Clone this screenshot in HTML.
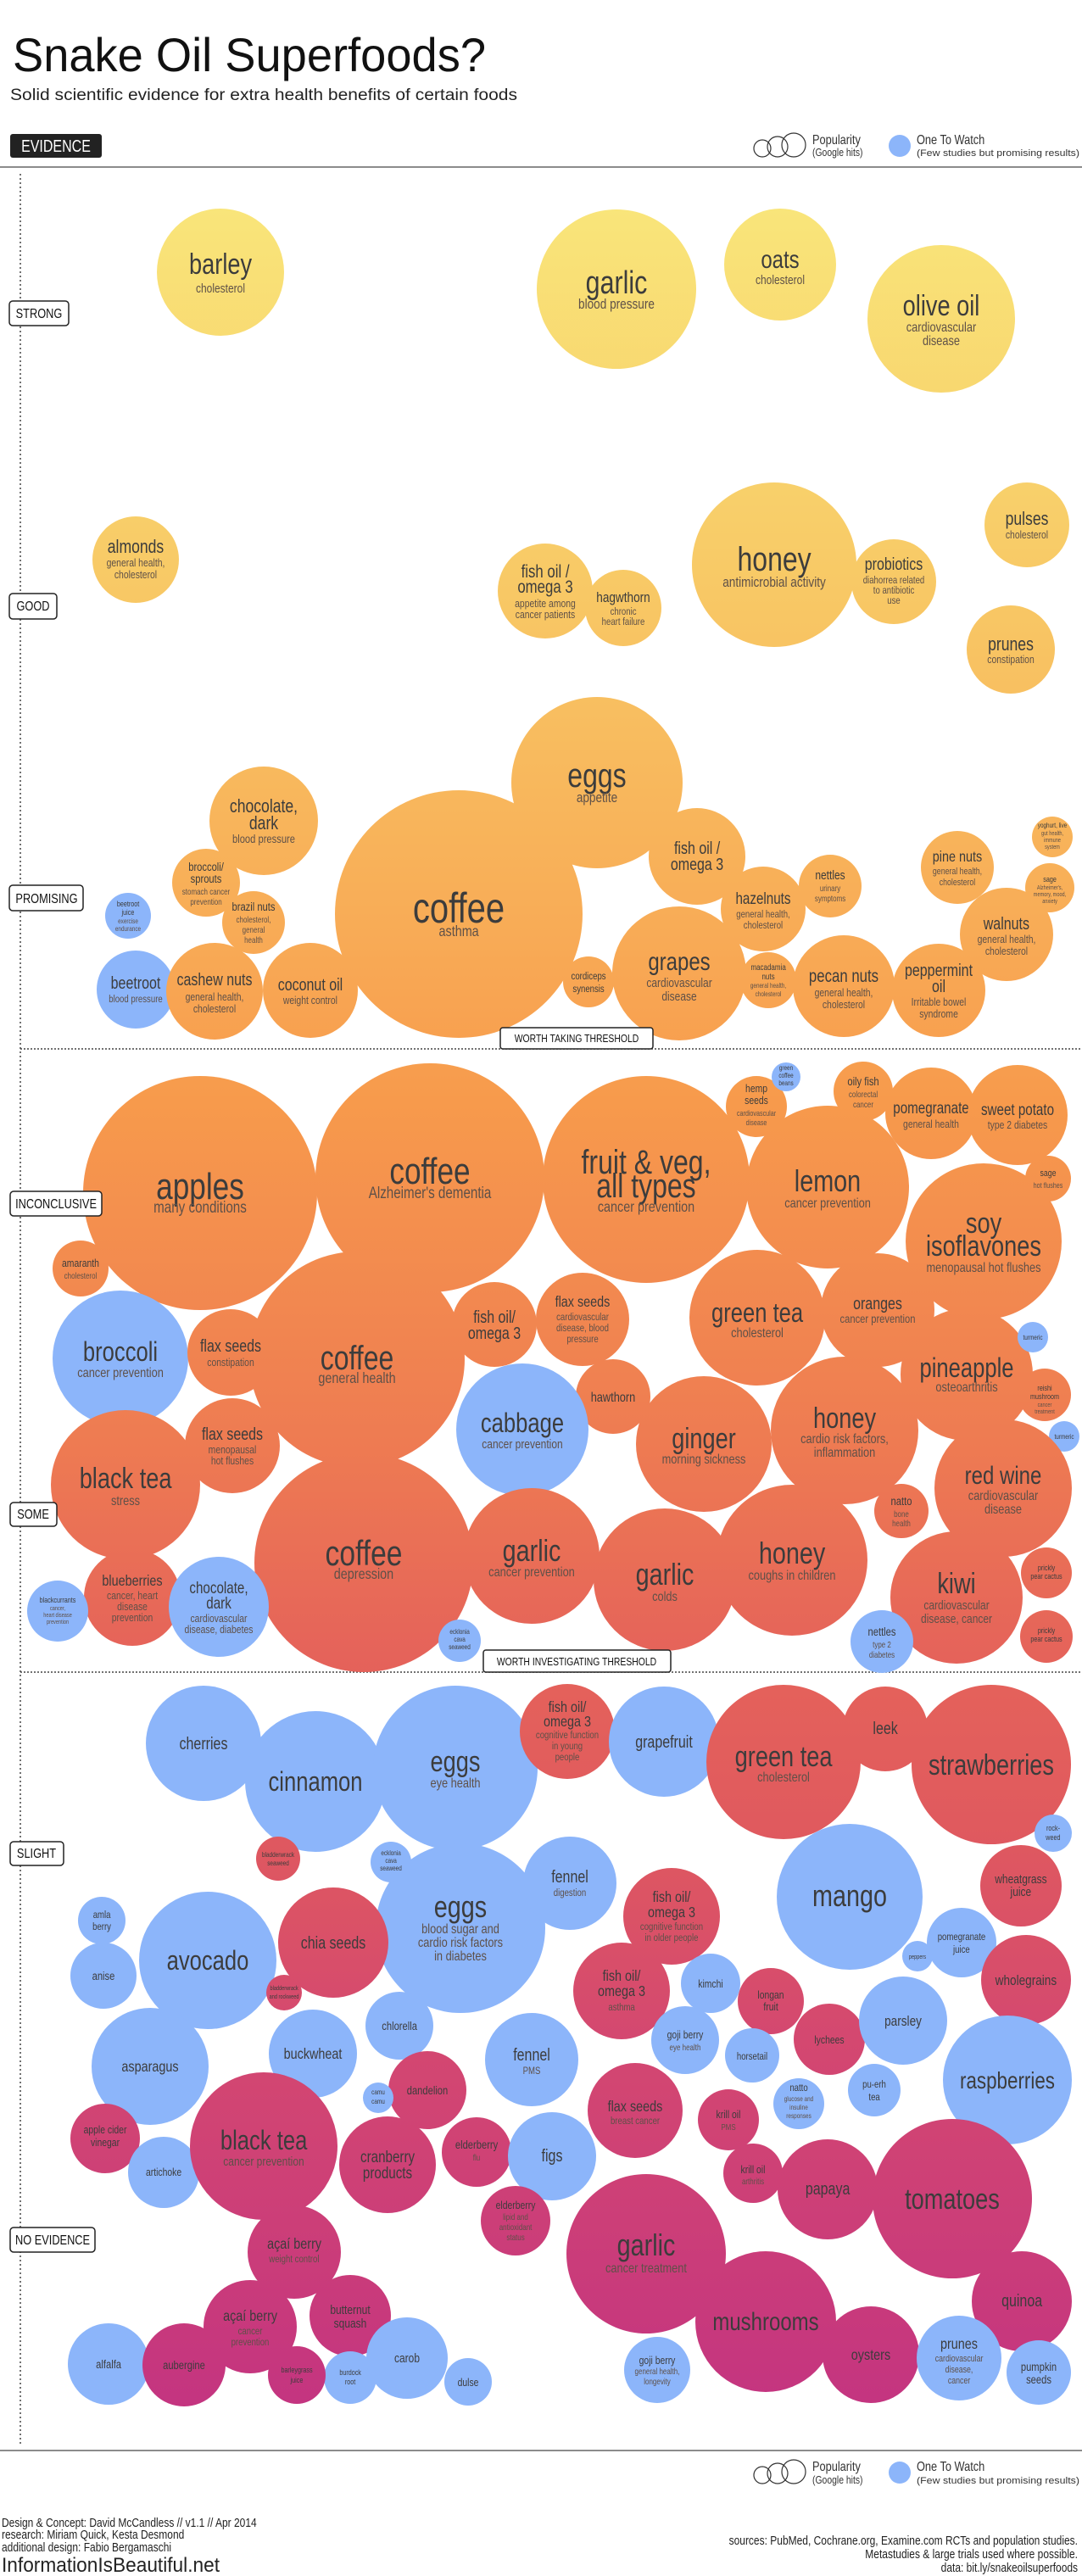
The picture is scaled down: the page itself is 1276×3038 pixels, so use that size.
<!DOCTYPE html>
<html><head><meta charset="utf-8"><style>
html,body{margin:0;padding:0;background:#fff}
svg{display:block}
text{font-family:"Liberation Sans Narrow","Liberation Sans",sans-serif;text-anchor:middle;transform-box:fill-box;transform-origin:center;transform:scaleX(0.8)}
.m{fill:#3c3c3c}
.s{fill:#5e5048}
.b{fill:#8cb5fa}
.o{fill:url(#g)}
.l{text-anchor:start;transform-origin:left center}
.r{text-anchor:end;transform-origin:right center}
.n{transform:none}
</style></head><body>
<svg width="1276" height="3038" viewBox="0 0 1276 3038" xmlns="http://www.w3.org/2000/svg">
<defs><linearGradient id="g" gradientUnits="userSpaceOnUse" x1="0" y1="200" x2="0" y2="2890">
<stop offset="0" stop-color="#f9e87c"/><stop offset="0.186" stop-color="#f8c865"/><stop offset="0.335" stop-color="#f8ab56"/><stop offset="0.409" stop-color="#f79a4c"/><stop offset="0.558" stop-color="#ee7b52"/><stop offset="0.651" stop-color="#e5635a"/><stop offset="0.725" stop-color="#e05a5e"/><stop offset="0.818" stop-color="#d44870"/><stop offset="1" stop-color="#c23282"/></linearGradient></defs>

<text class="l n" x="15" y="84" font-size="56" fill="#111" textLength="558" lengthAdjust="spacingAndGlyphs">Snake Oil Superfoods?</text>
<text class="l n" x="12" y="118" font-size="19" fill="#222" textLength="598" lengthAdjust="spacingAndGlyphs">Solid scientific evidence for extra health benefits of certain foods</text>
<rect x="12" y="158" width="108" height="28" rx="3" fill="#222"/>
<text x="66" y="179" font-size="20" fill="#fff">EVIDENCE</text>
<g fill="none" stroke="#333" stroke-width="1.2"><circle cx="899" cy="175" r="10"/><circle cx="917" cy="173" r="12"/><circle cx="936" cy="171" r="14"/></g>
<text class="l" x="958" y="170" font-size="16" fill="#333">Popularity</text>
<text class="l" x="958" y="184" font-size="13" fill="#333">(Google hits)</text>
<circle cx="1061" cy="172" r="13" class="b"/>
<text class="l" x="1081" y="170" font-size="16" fill="#333">One To Watch</text>
<text class="l n" x="1081" y="184" font-size="11" fill="#333" textLength="192" lengthAdjust="spacingAndGlyphs">(Few studies but promising results)</text>
<line x1="0" y1="197" x2="1276" y2="197" stroke="#666" stroke-width="1.5"/>
<line x1="24" y1="205" x2="24" y2="2882" stroke="#444" stroke-width="1.5" stroke-dasharray="2,3"/>
<line x1="24" y1="1237" x2="1276" y2="1237" stroke="#444" stroke-width="1.5" stroke-dasharray="2,2"/>
<line x1="24" y1="1972" x2="1276" y2="1972" stroke="#444" stroke-width="1.5" stroke-dasharray="2,2"/>
<line x1="0" y1="2890" x2="1276" y2="2890" stroke="#666" stroke-width="1.5"/>

<!-- STRONG / GOOD -->
<circle cx="260" cy="321" r="75" class="o"/><text class="m" x="260" y="323" font-size="34">barley</text><text class="s" x="260" y="345" font-size="15">cholesterol</text>
<circle cx="727" cy="341" r="94" class="o"/><text class="m" x="727" y="346" font-size="38">garlic</text><text class="s" x="727" y="364" font-size="17">blood pressure</text>
<circle cx="920" cy="312" r="66" class="o"/><text class="m" x="920" y="316" font-size="30">oats</text><text class="s" x="920" y="335" font-size="15">cholesterol</text>
<circle cx="1110" cy="376" r="87" class="o"/><text class="m" x="1110" y="372" font-size="34">olive oil</text><text class="s" x="1110" y="391" font-size="16">cardiovascular</text><text class="s" x="1110" y="407" font-size="16">disease</text>
<circle cx="160" cy="660" r="51" class="o"/><text class="m" x="160" y="652" font-size="22">almonds</text><text class="s" x="160" y="668" font-size="13">general health,</text><text class="s" x="160" y="682" font-size="13">cholesterol</text>
<circle cx="643" cy="697" r="56" class="o"/><text class="m" x="643" y="681" font-size="21">fish oil /</text><text class="m" x="643" y="699" font-size="21">omega 3</text><text class="s" x="643" y="716" font-size="13">appetite among</text><text class="s" x="643" y="729" font-size="13">cancer patients</text>
<circle cx="735" cy="717" r="45" class="o"/><text class="m" x="735" y="710" font-size="17">hagwthorn</text><text class="s" x="735" y="725" font-size="12">chronic</text><text class="s" x="735" y="737" font-size="12">heart failure</text>
<circle cx="913" cy="666" r="97" class="o"/><text class="m" x="913" y="673" font-size="40">honey</text><text class="s" x="913" y="692" font-size="17">antimicrobial activity</text>
<circle cx="1054" cy="686" r="50" class="o"/><text class="m" x="1054" y="672" font-size="20">probiotics</text><text class="s" x="1054" y="688" font-size="12">diahorrea related</text><text class="s" x="1054" y="700" font-size="12">to antibiotic</text><text class="s" x="1054" y="712" font-size="12">use</text>
<circle cx="1211" cy="619" r="50" class="o"/><text class="m" x="1211" y="619" font-size="22">pulses</text><text class="s" x="1211" y="635" font-size="13">cholesterol</text>
<circle cx="1192" cy="766" r="52" class="o"/><text class="m" x="1192" y="767" font-size="22">prunes</text><text class="s" x="1192" y="782" font-size="13">constipation</text>

<!-- PROMISING -->
<circle cx="704" cy="923" r="101" class="o"/><text class="m" x="704" y="928" font-size="40">eggs</text><text class="s" x="704" y="946" font-size="17">appetite</text>
<circle cx="541" cy="1078" r="146" class="o"/><text class="m" x="541" y="1088" font-size="50">coffee</text><text class="s" x="541" y="1104" font-size="18">asthma</text>
<circle cx="311" cy="968" r="64" class="o"/><text class="m" x="311" y="958" font-size="22">chocolate,</text><text class="m" x="311" y="978" font-size="22">dark</text><text class="s" x="311" y="994" font-size="14">blood pressure</text>
<circle cx="243" cy="1041" r="40" class="o"/><text class="m" x="243" y="1027" font-size="14">broccoli/</text><text class="m" x="243" y="1041" font-size="14">sprouts</text><text class="s" x="243" y="1055" font-size="10">stomach cancer</text><text class="s" x="243" y="1067" font-size="10">prevention</text>
<circle cx="299" cy="1088" r="37" class="o"/><text class="m" x="299" y="1074" font-size="14">brazil nuts</text><text class="s" x="299" y="1088" font-size="10">cholesterol,</text><text class="s" x="299" y="1100" font-size="10">general</text><text class="s" x="299" y="1112" font-size="10">health</text>
<circle cx="151" cy="1080" r="27" class="b"/><text class="m" x="151" y="1069" font-size="9">beetroot</text><text class="m" x="151" y="1079" font-size="9">juice</text><text class="s" x="151" y="1089" font-size="8">exercise</text><text class="s" x="151" y="1098" font-size="8">endurance</text>
<circle cx="160" cy="1167" r="46" class="b"/><text class="m" x="160" y="1166" font-size="20">beetroot</text><text class="s" x="160" y="1182" font-size="12">blood pressure</text>
<circle cx="253" cy="1169" r="57" class="o"/><text class="m" x="253" y="1162" font-size="20">cashew nuts</text><text class="s" x="253" y="1180" font-size="13">general health,</text><text class="s" x="253" y="1194" font-size="13">cholesterol</text>
<circle cx="366" cy="1168" r="56" class="o"/><text class="m" x="366" y="1168" font-size="20">coconut oil</text><text class="s" x="366" y="1184" font-size="13">weight control</text>
<circle cx="822" cy="1010" r="57" class="o"/><text class="m" x="822" y="1007" font-size="20">fish oil /</text><text class="m" x="822" y="1026" font-size="20">omega 3</text>
<circle cx="900" cy="1072" r="50" class="o"/><text class="m" x="900" y="1066" font-size="19">hazelnuts</text><text class="s" x="900" y="1082" font-size="12">general health,</text><text class="s" x="900" y="1095" font-size="12">cholesterol</text>
<circle cx="979" cy="1045" r="37" class="o"/><text class="m" x="979" y="1037" font-size="15">nettles</text><text class="s" x="979" y="1051" font-size="10">urinary</text><text class="s" x="979" y="1063" font-size="10">symptoms</text>
<circle cx="694" cy="1158" r="30" class="o"/><text class="m" x="694" y="1155" font-size="12">cordiceps</text><text class="m" x="694" y="1170" font-size="12">synensis</text>
<circle cx="801" cy="1148" r="79" class="o"/><text class="m" x="801" y="1144" font-size="30">grapes</text><text class="s" x="801" y="1164" font-size="15">cardiovascular</text><text class="s" x="801" y="1180" font-size="15">disease</text>
<circle cx="906" cy="1156" r="33" class="o"/><text class="m" x="906" y="1144" font-size="10">macadamia</text><text class="m" x="906" y="1155" font-size="10">nuts</text><text class="s" x="906" y="1165" font-size="8">general health,</text><text class="s" x="906" y="1175" font-size="8">cholesterol</text>
<circle cx="995" cy="1163" r="60" class="o"/><text class="m" x="995" y="1158" font-size="21">pecan nuts</text><text class="s" x="995" y="1175" font-size="13">general health,</text><text class="s" x="995" y="1189" font-size="13">cholesterol</text>
<circle cx="1107" cy="1168" r="55" class="o"/><text class="m" x="1107" y="1151" font-size="20">peppermint</text><text class="m" x="1107" y="1170" font-size="20">oil</text><text class="s" x="1107" y="1186" font-size="13">Irritable bowel</text><text class="s" x="1107" y="1200" font-size="13">syndrome</text>
<circle cx="1187" cy="1102" r="55" class="o"/><text class="m" x="1187" y="1096" font-size="20">walnuts</text><text class="s" x="1187" y="1112" font-size="13">general health,</text><text class="s" x="1187" y="1126" font-size="13">cholesterol</text>
<circle cx="1129" cy="1023" r="43" class="o"/><text class="m" x="1129" y="1016" font-size="18">pine nuts</text><text class="s" x="1129" y="1031" font-size="11">general health,</text><text class="s" x="1129" y="1044" font-size="11">cholesterol</text>
<circle cx="1241" cy="987" r="24" class="o"/><text class="m" x="1241" y="976" font-size="8">yoghurt, live</text><text class="s" x="1241" y="985" font-size="7">gut health,</text><text class="s" x="1241" y="993" font-size="7">immune</text><text class="s" x="1241" y="1001" font-size="7">system</text>
<circle cx="1238" cy="1047" r="29" class="o"/><text class="m" x="1238" y="1040" font-size="9">sage</text><text class="s" x="1238" y="1049" font-size="7">Alzheimer's,</text><text class="s" x="1238" y="1057" font-size="7">memory, mood,</text><text class="s" x="1238" y="1065" font-size="7">anxiety</text>

<!-- INCONCLUSIVE / SOME -->
<circle cx="236" cy="1407" r="138" class="o"/><text class="m" x="236" y="1414" font-size="44">apples</text><text class="s" x="236" y="1430" font-size="19">many conditions</text>
<circle cx="507" cy="1389" r="135" class="o"/><text class="m" x="507" y="1396" font-size="44">coffee</text><text class="s" x="507" y="1413" font-size="19">Alzheimer's dementia</text>
<circle cx="762" cy="1391" r="122" class="o"/><text class="m" x="762" y="1384" font-size="40">fruit &amp; veg,</text><text class="m" x="762" y="1412" font-size="40">all types</text><text class="s" x="762" y="1429" font-size="18">cancer prevention</text>
<circle cx="892" cy="1305" r="36" class="o"/><text class="m" x="892" y="1288" font-size="13">hemp</text><text class="m" x="892" y="1302" font-size="13">seeds</text><text class="s" x="892" y="1316" font-size="9">cardiovascular</text><text class="s" x="892" y="1327" font-size="9">disease</text>
<circle cx="976" cy="1400" r="96" class="o"/><text class="m" x="976" y="1405" font-size="36">lemon</text><text class="s" x="976" y="1424" font-size="16">cancer prevention</text>
<circle cx="927" cy="1270" r="17" class="b"/><text class="m" x="927" y="1262" font-size="8">green</text><text class="m" x="927" y="1271" font-size="8">coffee</text><text class="m" x="927" y="1280" font-size="8">beans</text>
<circle cx="1018" cy="1287" r="35" class="o"/><text class="m" x="1018" y="1280" font-size="14">oily fish</text><text class="s" x="1018" y="1294" font-size="10">colorectal</text><text class="s" x="1018" y="1306" font-size="10">cancer</text>
<circle cx="1098" cy="1313" r="54" class="o"/><text class="m" x="1098" y="1313" font-size="19">pomegranate</text><text class="s" x="1098" y="1330" font-size="13">general health</text>
<circle cx="1200" cy="1315" r="59" class="o"/><text class="m" x="1200" y="1315" font-size="19">sweet potato</text><text class="s" x="1200" y="1331" font-size="13">type 2 diabetes</text>
<circle cx="1160" cy="1464" r="92" class="o"/><text class="m" x="1160" y="1454" font-size="34">soy</text><text class="m" x="1160" y="1481" font-size="34">isoflavones</text><text class="s" x="1160" y="1500" font-size="16">menopausal hot flushes</text>
<circle cx="1236" cy="1390" r="27" class="o"/><text class="m" x="1236" y="1387" font-size="11">sage</text><text class="s" x="1236" y="1401" font-size="9">hot flushes</text>
<circle cx="95" cy="1496" r="33" class="o"/><text class="m" x="95" y="1494" font-size="13">amaranth</text><text class="s" x="95" y="1508" font-size="10">cholesterol</text>
<circle cx="421" cy="1603" r="127" class="o"/><text class="m" x="421" y="1615" font-size="40">coffee</text><text class="s" x="421" y="1631" font-size="18">general health</text>
<circle cx="142" cy="1602" r="80" class="b"/><text class="m" x="142" y="1605" font-size="32">broccoli</text><text class="s" x="142" y="1624" font-size="16">cancer prevention</text>
<circle cx="272" cy="1595" r="51" class="o"/><text class="m" x="272" y="1594" font-size="20">flax seeds</text><text class="s" x="272" y="1611" font-size="13">constipation</text>
<circle cx="583" cy="1562" r="50" class="o"/><text class="m" x="583" y="1560" font-size="20">fish oil/</text><text class="m" x="583" y="1579" font-size="20">omega 3</text>
<circle cx="687" cy="1556" r="55" class="o"/><text class="m" x="687" y="1541" font-size="18">flax seeds</text><text class="s" x="687" y="1557" font-size="12">cardiovascular</text><text class="s" x="687" y="1570" font-size="12">disease, blood</text><text class="s" x="687" y="1583" font-size="12">pressure</text>
<circle cx="723" cy="1647" r="44" class="o"/><text class="m" x="723" y="1653" font-size="16">hawthorn</text>
<circle cx="893" cy="1554" r="80" class="o"/><text class="m" x="893" y="1559" font-size="32">green tea</text><text class="s" x="893" y="1577" font-size="16">cholesterol</text>
<circle cx="1035" cy="1545" r="67" class="o"/><text class="m" x="1035" y="1544" font-size="20">oranges</text><text class="s" x="1035" y="1560" font-size="14">cancer prevention</text>
<circle cx="1140" cy="1621" r="78" class="o"/><text class="m" x="1140" y="1624" font-size="32">pineapple</text><text class="s" x="1140" y="1641" font-size="16">osteoarthritis</text>
<circle cx="1218" cy="1577" r="18" class="b"/><text class="m" x="1218" y="1580" font-size="8">turmeric</text>
<circle cx="1232" cy="1645" r="31" class="o"/><text class="m" x="1232" y="1640" font-size="9">reishi</text><text class="m" x="1232" y="1650" font-size="9">mushroom</text><text class="s" x="1232" y="1659" font-size="7">cancer</text><text class="s" x="1232" y="1667" font-size="7">treatment</text>
<circle cx="1255" cy="1694" r="18" class="b"/><text class="m" x="1255" y="1697" font-size="8">turmeric</text>
<circle cx="148" cy="1751" r="88" class="o"/><text class="m" x="148" y="1755" font-size="34">black tea</text><text class="s" x="148" y="1775" font-size="16">stress</text>
<circle cx="274" cy="1705" r="56" class="o"/><text class="m" x="274" y="1698" font-size="20">flax seeds</text><text class="s" x="274" y="1714" font-size="13">menopausal</text><text class="s" x="274" y="1727" font-size="13">hot flushes</text>
<circle cx="616" cy="1686" r="78" class="b"/><text class="m" x="616" y="1689" font-size="32">cabbage</text><text class="s" x="616" y="1708" font-size="15">cancer prevention</text>
<circle cx="830" cy="1703" r="80" class="o"/><text class="m" x="830" y="1708" font-size="34">ginger</text><text class="s" x="830" y="1726" font-size="16">morning sickness</text>
<circle cx="996" cy="1687" r="87" class="o"/><text class="m" x="996" y="1684" font-size="34">honey</text><text class="s" x="996" y="1702" font-size="16">cardio risk factors,</text><text class="s" x="996" y="1718" font-size="16">inflammation</text>
<circle cx="1183" cy="1755" r="81" class="o"/><text class="m" x="1183" y="1750" font-size="30">red wine</text><text class="s" x="1183" y="1769" font-size="16">cardiovascular</text><text class="s" x="1183" y="1785" font-size="16">disease</text>
<circle cx="1063" cy="1782" r="32" class="o"/><text class="m" x="1063" y="1775" font-size="14">natto</text><text class="s" x="1063" y="1789" font-size="10">bone</text><text class="s" x="1063" y="1800" font-size="10">health</text>
<circle cx="429" cy="1843" r="129" class="o"/><text class="m" x="429" y="1846" font-size="42">coffee</text><text class="s" x="429" y="1862" font-size="18">depression</text>
<circle cx="627" cy="1835" r="80" class="o"/><text class="m" x="627" y="1841" font-size="36">garlic</text><text class="s" x="627" y="1859" font-size="16">cancer prevention</text>
<circle cx="784" cy="1863" r="84" class="o"/><text class="m" x="784" y="1869" font-size="36">garlic</text><text class="s" x="784" y="1888" font-size="16">colds</text>
<circle cx="934" cy="1840" r="89" class="o"/><text class="m" x="934" y="1844" font-size="36">honey</text><text class="s" x="934" y="1863" font-size="16">coughs in children</text>
<circle cx="1128" cy="1884" r="78" class="o"/><text class="m" x="1128" y="1879" font-size="34">kiwi</text><text class="s" x="1128" y="1898" font-size="15">cardiovascular</text><text class="s" x="1128" y="1914" font-size="15">disease, cancer</text>
<circle cx="1234" cy="1855" r="30" class="o"/><text class="m" x="1234" y="1852" font-size="9">prickly</text><text class="m" x="1234" y="1862" font-size="9">pear cactus</text>
<circle cx="1234" cy="1930" r="31" class="o"/><text class="m" x="1234" y="1926" font-size="9">prickly</text><text class="m" x="1234" y="1936" font-size="9">pear cactus</text>
<circle cx="1040" cy="1936" r="37" class="b"/><text class="m" x="1040" y="1929" font-size="14">nettles</text><text class="s" x="1040" y="1943" font-size="10">type 2</text><text class="s" x="1040" y="1955" font-size="10">diabetes</text>
<circle cx="156" cy="1884" r="57" class="o"/><text class="m" x="156" y="1870" font-size="18">blueberries</text><text class="s" x="156" y="1886" font-size="13">cancer, heart</text><text class="s" x="156" y="1899" font-size="13">disease</text><text class="s" x="156" y="1912" font-size="13">prevention</text>
<circle cx="258" cy="1895" r="59" class="b"/><text class="m" x="258" y="1879" font-size="19">chocolate,</text><text class="m" x="258" y="1897" font-size="19">dark</text><text class="s" x="258" y="1913" font-size="13">cardiovascular</text><text class="s" x="258" y="1926" font-size="13">disease, diabetes</text>
<circle cx="68" cy="1900" r="36" class="b"/><text class="m" x="68" y="1890" font-size="9">blackcurrants</text><text class="s" x="68" y="1899" font-size="7">cancer,</text><text class="s" x="68" y="1907" font-size="7">heart disease</text><text class="s" x="68" y="1915" font-size="7">prevention</text>
<circle cx="542" cy="1935" r="25" class="b"/><text class="m" x="542" y="1927" font-size="8">ecklonia</text><text class="m" x="542" y="1936" font-size="8">cava</text><text class="m" x="542" y="1945" font-size="8">seaweed</text>

<!-- SLIGHT -->
<circle cx="240" cy="2056" r="68" class="b"/><text class="m" x="240" y="2063" font-size="20">cherries</text>
<circle cx="372" cy="2101" r="83" class="b"/><text class="m" x="372" y="2112" font-size="32">cinnamon</text>
<circle cx="537" cy="2085" r="97" class="b"/><text class="m" x="537" y="2089" font-size="34">eggs</text><text class="s" x="537" y="2108" font-size="16">eye health</text>
<circle cx="669" cy="2042" r="56" class="o"/><text class="m" x="669" y="2019" font-size="18">fish oil/</text><text class="m" x="669" y="2036" font-size="18">omega 3</text><text class="s" x="669" y="2050" font-size="12">cognitive function</text><text class="s" x="669" y="2063" font-size="12">in young</text><text class="s" x="669" y="2076" font-size="12">people</text>
<circle cx="783" cy="2054" r="65" class="b"/><text class="m" x="783" y="2061" font-size="20">grapefruit</text>
<circle cx="924" cy="2078" r="91" class="o"/><text class="m" x="924" y="2083" font-size="34">green tea</text><text class="s" x="924" y="2101" font-size="16">cholesterol</text>
<circle cx="1044" cy="2039" r="50" class="o"/><text class="m" x="1044" y="2045" font-size="20">leek</text>
<circle cx="1169" cy="2081" r="94" class="o"/><text class="m" x="1169" y="2093" font-size="34">strawberries</text>
<circle cx="1242" cy="2162" r="22" class="b"/><text class="m" x="1242" y="2159" font-size="9">rock-</text><text class="m" x="1242" y="2170" font-size="9">weed</text>
<circle cx="328" cy="2192" r="26" class="o"/><text class="m" x="328" y="2190" font-size="8">bladderwrack</text><text class="m" x="328" y="2200" font-size="8">seaweed</text>
<circle cx="543" cy="2274" r="100" class="b"/><text class="m" x="543" y="2261" font-size="36">eggs</text><text class="s" x="543" y="2280" font-size="16">blood sugar and</text><text class="s" x="543" y="2296" font-size="16">cardio risk factors</text><text class="s" x="543" y="2312" font-size="16">in diabetes</text>
<circle cx="461" cy="2196" r="24" class="b"/><text class="m" x="461" y="2188" font-size="8">ecklonia</text><text class="m" x="461" y="2197" font-size="8">cava</text><text class="m" x="461" y="2206" font-size="8">seaweed</text>
<circle cx="672" cy="2221" r="55" class="b"/><text class="m" x="672" y="2220" font-size="20">fennel</text><text class="s" x="672" y="2236" font-size="12">digestion</text>
<circle cx="792" cy="2260" r="57" class="o"/><text class="m" x="792" y="2243" font-size="18">fish oil/</text><text class="m" x="792" y="2261" font-size="18">omega 3</text><text class="s" x="792" y="2276" font-size="12">cognitive function</text><text class="s" x="792" y="2289" font-size="12">in older people</text>
<circle cx="1002" cy="2237" r="86" class="b"/><text class="m" x="1002" y="2248" font-size="36">mango</text>
<circle cx="1204" cy="2224" r="48" class="o"/><text class="m" x="1204" y="2221" font-size="15">wheatgrass</text><text class="m" x="1204" y="2236" font-size="15">juice</text>
<circle cx="120" cy="2265" r="28" class="b"/><text class="m" x="120" y="2262" font-size="12">amla</text><text class="m" x="120" y="2276" font-size="12">berry</text>
<circle cx="122" cy="2330" r="39" class="b"/><text class="m" x="122" y="2335" font-size="14">anise</text>
<circle cx="245" cy="2312" r="81" class="b"/><text class="m" x="245" y="2323" font-size="32">avocado</text>
<circle cx="393" cy="2291" r="65" class="o"/><text class="m" x="393" y="2298" font-size="20">chia seeds</text>
<circle cx="335" cy="2350" r="21" class="o"/><text class="m" x="335" y="2347" font-size="7">bladderwrack</text><text class="m" x="335" y="2357" font-size="7">and rockweed</text>
<circle cx="1082" cy="2307" r="18" class="b"/><text class="m" x="1082" y="2310" font-size="7">peppers</text>
<circle cx="1134" cy="2291" r="41" class="b"/><text class="m" x="1134" y="2288" font-size="12">pomegranate</text><text class="m" x="1134" y="2303" font-size="12">juice</text>
<circle cx="1210" cy="2335" r="53" class="o"/><text class="m" x="1210" y="2341" font-size="17">wholegrains</text>
<circle cx="733" cy="2348" r="57" class="o"/><text class="m" x="733" y="2336" font-size="18">fish oil/</text><text class="m" x="733" y="2354" font-size="18">omega 3</text><text class="s" x="733" y="2371" font-size="12">asthma</text>
<circle cx="838" cy="2339" r="35" class="b"/><text class="m" x="838" y="2344" font-size="13">kimchi</text>
<circle cx="909" cy="2360" r="39" class="o"/><text class="m" x="909" y="2357" font-size="13">longan</text><text class="m" x="909" y="2371" font-size="13">fruit</text>
<circle cx="808" cy="2406" r="40" class="b"/><text class="m" x="808" y="2404" font-size="13">goji berry</text><text class="s" x="808" y="2418" font-size="10">eye health</text>
<circle cx="887" cy="2424" r="32" class="b"/><text class="m" x="887" y="2429" font-size="12">horsetail</text>
<circle cx="978" cy="2405" r="42" class="o"/><text class="m" x="978" y="2410" font-size="13">lychees</text>
<circle cx="1065" cy="2383" r="52" class="b"/><text class="m" x="1065" y="2389" font-size="17">parsley</text>
<circle cx="1188" cy="2453" r="76" class="b"/><text class="m" x="1188" y="2463" font-size="28">raspberries</text>
<circle cx="471" cy="2389" r="40" class="b"/><text class="m" x="471" y="2394" font-size="14">chlorella</text>
<circle cx="177" cy="2437" r="69" class="b"/><text class="m" x="177" y="2443" font-size="18">asparagus</text>
<circle cx="369" cy="2422" r="52" class="b"/><text class="m" x="369" y="2428" font-size="18">buckwheat</text>
<circle cx="627" cy="2429" r="55" class="b"/><text class="m" x="627" y="2430" font-size="20">fennel</text><text class="s" x="627" y="2446" font-size="12">PMS</text>
<circle cx="504" cy="2465" r="46" class="o"/><text class="m" x="504" y="2470" font-size="14">dandelion</text>
<circle cx="446" cy="2474" r="18" class="b"/><text class="m" x="446" y="2470" font-size="8">camu</text><text class="m" x="446" y="2481" font-size="8">camu</text>
<circle cx="749" cy="2489" r="56" class="o"/><text class="m" x="749" y="2490" font-size="18">flax seeds</text><text class="s" x="749" y="2505" font-size="12">breast cancer</text>
<circle cx="859" cy="2500" r="36" class="o"/><text class="m" x="859" y="2498" font-size="13">krill oil</text><text class="s" x="859" y="2512" font-size="10">PMS</text>
<circle cx="942" cy="2481" r="30" class="b"/><text class="m" x="942" y="2466" font-size="12">natto</text><text class="s" x="942" y="2478" font-size="8">glucose and</text><text class="s" x="942" y="2488" font-size="8">insuline</text><text class="s" x="942" y="2498" font-size="8">responses</text>
<circle cx="1031" cy="2465" r="31" class="b"/><text class="m" x="1031" y="2462" font-size="12">pu-erh</text><text class="m" x="1031" y="2477" font-size="12">tea</text>

<!-- NO EVIDENCE -->
<circle cx="124" cy="2522" r="41" class="o"/><text class="m" x="124" y="2516" font-size="13">apple cider</text><text class="m" x="124" y="2531" font-size="13">vinegar</text>
<circle cx="193" cy="2562" r="42" class="b"/><text class="m" x="193" y="2566" font-size="13">artichoke</text>
<circle cx="311" cy="2531" r="87" class="o"/><text class="m" x="311" y="2535" font-size="32">black tea</text><text class="s" x="311" y="2554" font-size="15">cancer prevention</text>
<circle cx="457" cy="2553" r="57" class="o"/><text class="m" x="457" y="2550" font-size="19">cranberry</text><text class="m" x="457" y="2569" font-size="19">products</text>
<circle cx="562" cy="2538" r="41" class="o"/><text class="m" x="562" y="2534" font-size="14">elderberry</text><text class="s" x="562" y="2548" font-size="10">flu</text>
<circle cx="651" cy="2543" r="52" class="b"/><text class="m" x="651" y="2549" font-size="20">figs</text>
<circle cx="608" cy="2619" r="41" class="o"/><text class="m" x="608" y="2605" font-size="13">elderberry</text><text class="s" x="608" y="2618" font-size="10">lipid and</text><text class="s" x="608" y="2630" font-size="10">antioxidant</text><text class="s" x="608" y="2642" font-size="10">status</text>
<circle cx="888" cy="2563" r="35" class="o"/><text class="m" x="888" y="2563" font-size="13">krill oil</text><text class="s" x="888" y="2576" font-size="10">arthritis</text>
<circle cx="976" cy="2582" r="59" class="o"/><text class="m" x="976" y="2588" font-size="20">papaya</text>
<circle cx="1123" cy="2593" r="94" class="o"/><text class="m" x="1123" y="2605" font-size="34">tomatoes</text>
<circle cx="762" cy="2658" r="94" class="o"/><text class="m" x="762" y="2660" font-size="36">garlic</text><text class="s" x="762" y="2680" font-size="16">cancer treatment</text>
<circle cx="1205" cy="2714" r="59" class="o"/><text class="m" x="1205" y="2720" font-size="20">quinoa</text>
<circle cx="347" cy="2656" r="55" class="o"/><text class="m" x="347" y="2652" font-size="18">açaí berry</text><text class="s" x="347" y="2668" font-size="12">weight control</text>
<circle cx="295" cy="2744" r="55" class="o"/><text class="m" x="295" y="2737" font-size="18">açaí berry</text><text class="s" x="295" y="2753" font-size="12">cancer</text><text class="s" x="295" y="2766" font-size="12">prevention</text>
<circle cx="413" cy="2731" r="48" class="o"/><text class="m" x="413" y="2729" font-size="15">butternut</text><text class="m" x="413" y="2745" font-size="15">squash</text>
<circle cx="903" cy="2738" r="83" class="o"/><text class="m" x="903" y="2748" font-size="30">mushrooms</text>
<circle cx="1027" cy="2777" r="57" class="o"/><text class="m" x="1027" y="2783" font-size="18">oysters</text>
<circle cx="1131" cy="2781" r="50" class="b"/><text class="m" x="1131" y="2770" font-size="18">prunes</text><text class="s" x="1131" y="2785" font-size="11">cardiovascular</text><text class="s" x="1131" y="2798" font-size="11">disease,</text><text class="s" x="1131" y="2811" font-size="11">cancer</text>
<circle cx="1225" cy="2798" r="38" class="b"/><text class="m" x="1225" y="2796" font-size="14">pumpkin</text><text class="m" x="1225" y="2811" font-size="14">seeds</text>
<circle cx="775" cy="2795" r="39" class="b"/><text class="m" x="775" y="2788" font-size="13">goji berry</text><text class="s" x="775" y="2800" font-size="10">general health,</text><text class="s" x="775" y="2812" font-size="10">longevity</text>
<circle cx="128" cy="2788" r="48" class="b"/><text class="m" x="128" y="2793" font-size="14">alfalfa</text>
<circle cx="217" cy="2789" r="49" class="o"/><text class="m" x="217" y="2794" font-size="14">aubergine</text>
<circle cx="413" cy="2804" r="31" class="b"/><text class="m" x="413" y="2801" font-size="9">burdock</text><text class="m" x="413" y="2812" font-size="9">root</text>
<circle cx="350" cy="2801" r="34" class="o"/><text class="m" x="350" y="2798" font-size="9">barleygrass</text><text class="m" x="350" y="2810" font-size="9">juice</text>
<circle cx="480" cy="2781" r="48" class="b"/><text class="m" x="480" y="2786" font-size="15">carob</text>
<circle cx="552" cy="2809" r="28" class="b"/><text class="m" x="552" y="2814" font-size="13">dulse</text>

<!-- level labels -->
<g fill="#fff" stroke="#222" stroke-width="1.5">
<rect x="11" y="355" width="70" height="29" rx="4"/><rect x="11" y="700" width="56" height="30" rx="4"/><rect x="11" y="1044" width="87" height="30" rx="4"/><rect x="12" y="1405" width="108" height="29" rx="4"/><rect x="12" y="1772" width="55" height="28" rx="4"/><rect x="12" y="2172" width="63" height="28" rx="4"/><rect x="12" y="2627" width="100" height="29" rx="4"/>
<rect x="590" y="1212" width="180" height="25" rx="3"/><rect x="570" y="1946" width="221" height="26" rx="3"/>
</g>
<g fill="#111" font-size="16">
<text x="46" y="375">STRONG</text><text x="39" y="720">GOOD</text><text x="55" y="1065">PROMISING</text><text x="66" y="1425">INCONCLUSIVE</text><text x="39" y="1791">SOME</text><text x="43" y="2191">SLIGHT</text><text x="62" y="2647">NO EVIDENCE</text>
<text x="680" y="1229" font-size="13">WORTH TAKING THRESHOLD</text><text x="680" y="1964" font-size="13">WORTH INVESTIGATING THRESHOLD</text>
</g>

<!-- bottom legend -->
<g fill="none" stroke="#333" stroke-width="1.2"><circle cx="899" cy="2919" r="10"/><circle cx="917" cy="2917" r="12"/><circle cx="936" cy="2915" r="14"/></g>
<text class="l" x="958" y="2914" font-size="16" fill="#333">Popularity</text>
<text class="l" x="958" y="2929" font-size="13" fill="#333">(Google hits)</text>
<circle cx="1061" cy="2916" r="13" class="b"/>
<text class="l" x="1081" y="2914" font-size="16" fill="#333">One To Watch</text>
<text class="l n" x="1081" y="2929" font-size="11" fill="#333" textLength="192" lengthAdjust="spacingAndGlyphs">(Few studies but promising results)</text>

<g fill="#222">
<text class="l" x="2" y="2980" font-size="15">Design &amp; Concept: David McCandless // v1.1 // Apr 2014</text>
<text class="l" x="2" y="2994" font-size="15">research: Miriam Quick, Kesta Desmond</text>
<text class="l" x="2" y="3009" font-size="15">additional design: Fabio Bergamaschi</text>
<text class="l n" x="2" y="3033" font-size="24" textLength="257" lengthAdjust="spacingAndGlyphs">InformationIsBeautiful.net</text>
<text class="r" x="1271" y="3001" font-size="15">sources: PubMed, Cochrane.org, Examine.com RCTs and population studies.</text>
<text class="r" x="1271" y="3017" font-size="15">Metastudies &amp; large trials used where possible.</text>
<text class="r" x="1271" y="3033" font-size="15">data: bit.ly/snakeoilsuperfoods</text>
</g>
</svg>
</body></html>
